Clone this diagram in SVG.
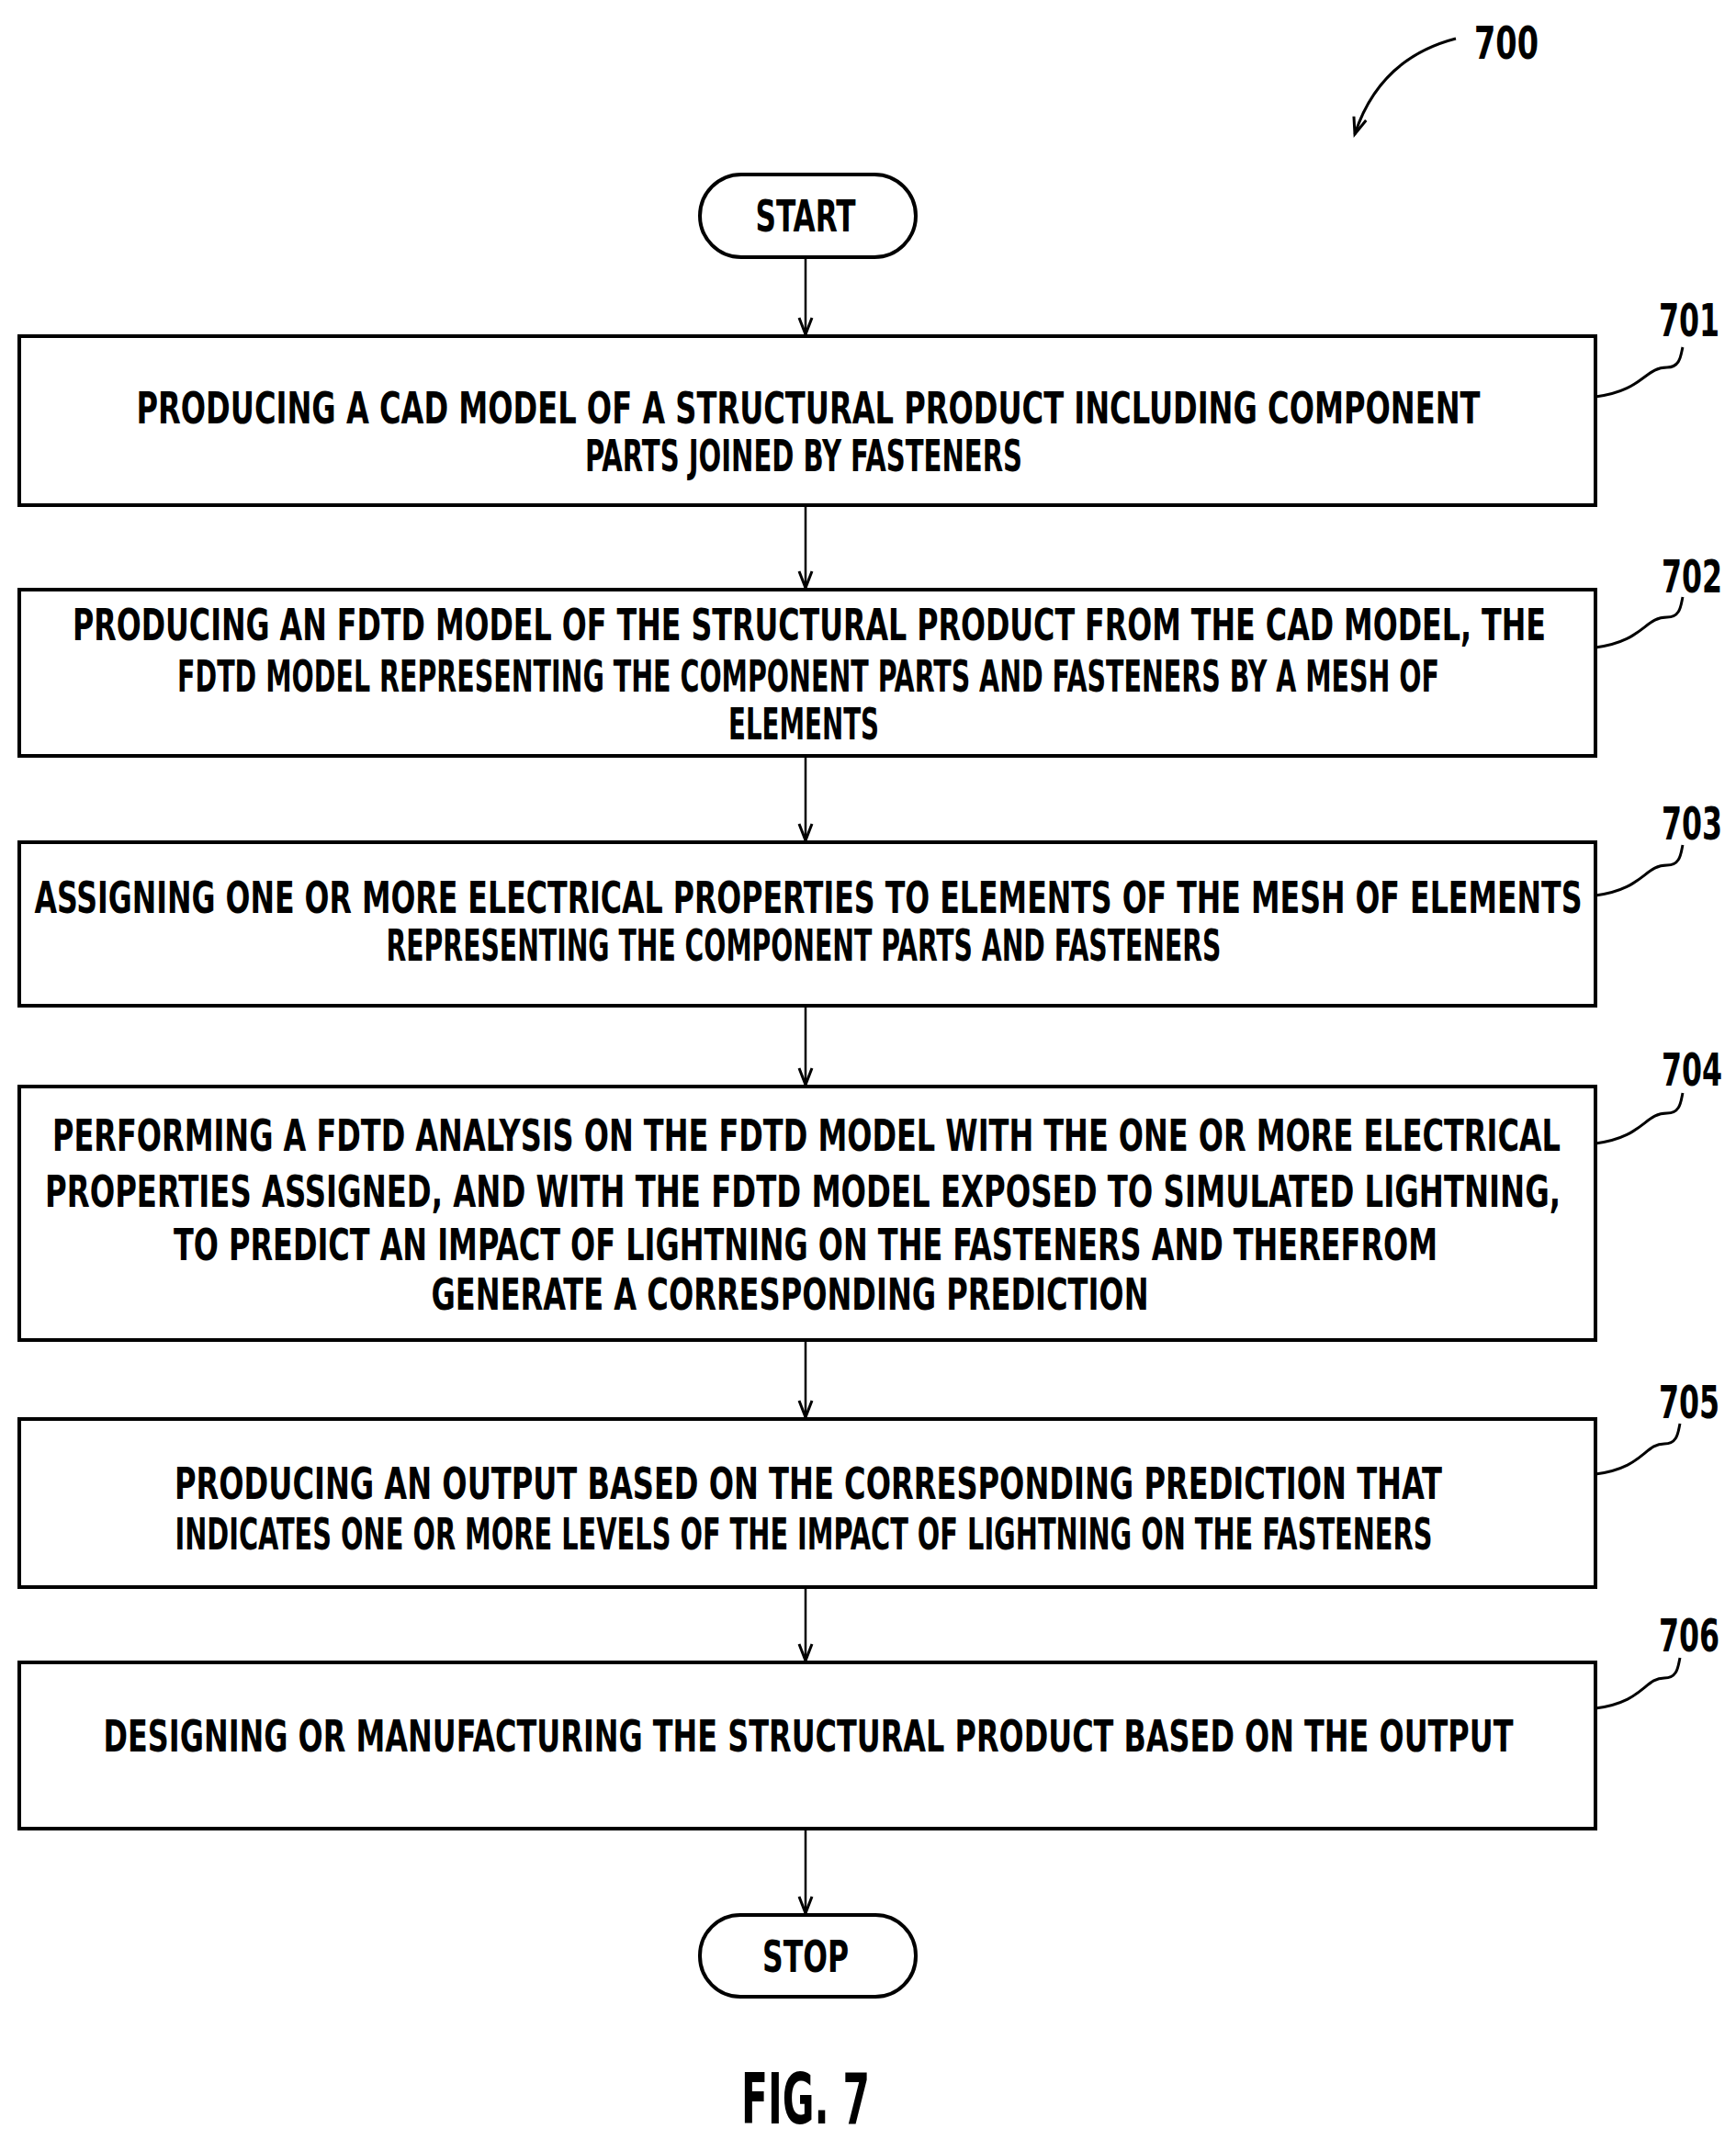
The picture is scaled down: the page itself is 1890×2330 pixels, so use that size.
<svg xmlns="http://www.w3.org/2000/svg" width="1890" height="2330" viewBox="0 0 1890 2330">
<style>
rect.b{fill:#fff;stroke:#000;stroke-width:4}
text{font-family:"DejaVu Sans Condensed","DejaVu Sans",sans-serif;font-weight:bold;font-size:48px;text-anchor:middle;fill:#000}
.c{fill:none;stroke:#000;stroke-width:2.5}
.l{fill:none;stroke:#000;stroke-width:3}
.n{font-size:50px;text-anchor:end}
</style>
<defs><marker id="a" markerWidth="22" markerHeight="18" refX="19" refY="8" orient="auto" markerUnits="userSpaceOnUse" overflow="visible"><path d="M1,1 L19,8 L1,15" fill="none" stroke="#000" stroke-width="3"/></marker></defs>
<rect width="1890" height="2330" fill="#fff"/>
<g id="connectors">
<path class="c" d="M877,282 V364" marker-end="url(#a)"/>
<path class="c" d="M877,552 V640" marker-end="url(#a)"/>
<path class="c" d="M877,825 V915" marker-end="url(#a)"/>
<path class="c" d="M877,1097 V1181" marker-end="url(#a)"/>
<path class="c" d="M877,1461 V1543" marker-end="url(#a)"/>
<path class="c" d="M877,1730 V1808" marker-end="url(#a)"/>
<path class="c" d="M877,1993 V2083" marker-end="url(#a)"/>
</g>
<g id="start"><rect class="b" x="762" y="190" width="235" height="90" rx="45"/><text x="877" y="252" textLength="109" lengthAdjust="spacingAndGlyphs">START</text></g>
<g id="n701"><rect class="b" x="21" y="366" width="1716" height="184"/>
<text x="880" y="461" textLength="1463" lengthAdjust="spacingAndGlyphs">PRODUCING A CAD MODEL OF A STRUCTURAL PRODUCT INCLUDING COMPONENT</text>
<text x="875" y="513" textLength="476" lengthAdjust="spacingAndGlyphs">PARTS JOINED BY FASTENERS</text>
<path class="l" d="M1737,432 C1790,425 1790,400 1815,400 C1830,400 1830,385 1832,378"/><text class="n" x="1872" y="366" textLength="66" lengthAdjust="spacingAndGlyphs">701</text></g>
<g id="n702"><rect class="b" x="21" y="642" width="1716" height="181"/>
<text x="881" y="697" textLength="1604" lengthAdjust="spacingAndGlyphs">PRODUCING AN FDTD MODEL OF THE STRUCTURAL PRODUCT FROM THE CAD MODEL, THE</text>
<text x="880" y="753" textLength="1374" lengthAdjust="spacingAndGlyphs">FDTD MODEL REPRESENTING THE COMPONENT PARTS AND FASTENERS BY A MESH OF</text>
<text x="875" y="805" textLength="164" lengthAdjust="spacingAndGlyphs">ELEMENTS</text>
<path class="l" d="M1737,705 C1790,698 1790,672 1815,672 C1830,672 1830,658 1832,650"/><text class="n" x="1875" y="645" textLength="66" lengthAdjust="spacingAndGlyphs">702</text></g>
<g id="n703"><rect class="b" x="21" y="917" width="1716" height="178"/>
<text x="880" y="994" textLength="1685" lengthAdjust="spacingAndGlyphs">ASSIGNING ONE OR MORE ELECTRICAL PROPERTIES TO ELEMENTS OF THE MESH OF ELEMENTS</text>
<text x="875" y="1046" textLength="909" lengthAdjust="spacingAndGlyphs">REPRESENTING THE COMPONENT PARTS AND FASTENERS</text>
<path class="l" d="M1737,975 C1790,968 1790,942 1815,942 C1830,942 1830,928 1832,920"/><text class="n" x="1875" y="914" textLength="66" lengthAdjust="spacingAndGlyphs">703</text></g>
<g id="n704"><rect class="b" x="21" y="1183" width="1716" height="276"/>
<text x="878" y="1253" textLength="1642" lengthAdjust="spacingAndGlyphs">PERFORMING A FDTD ANALYSIS ON THE FDTD MODEL WITH THE ONE OR MORE ELECTRICAL</text>
<text x="874" y="1314" textLength="1650" lengthAdjust="spacingAndGlyphs">PROPERTIES ASSIGNED, AND WITH THE FDTD MODEL EXPOSED TO SIMULATED LIGHTNING,</text>
<text x="877" y="1372" textLength="1376" lengthAdjust="spacingAndGlyphs">TO PREDICT AN IMPACT OF LIGHTNING ON THE FASTENERS AND THEREFROM</text>
<text x="860" y="1426" textLength="781" lengthAdjust="spacingAndGlyphs">GENERATE A CORRESPONDING PREDICTION</text>
<path class="l" d="M1737,1245 C1790,1238 1790,1212 1815,1212 C1830,1212 1830,1198 1832,1190"/><text class="n" x="1875" y="1182" textLength="66" lengthAdjust="spacingAndGlyphs">704</text></g>
<g id="n705"><rect class="b" x="21" y="1545" width="1716" height="183"/>
<text x="880" y="1632" textLength="1380" lengthAdjust="spacingAndGlyphs">PRODUCING AN OUTPUT BASED ON THE CORRESPONDING PREDICTION THAT</text>
<text x="875" y="1687" textLength="1369" lengthAdjust="spacingAndGlyphs">INDICATES ONE OR MORE LEVELS OF THE IMPACT OF LIGHTNING ON THE FASTENERS</text>
<path class="l" d="M1737,1605 C1790,1598 1790,1572 1812,1572 C1827,1572 1827,1558 1829,1550"/><text class="n" x="1872" y="1544" textLength="66" lengthAdjust="spacingAndGlyphs">705</text></g>
<g id="n706"><rect class="b" x="21" y="1810" width="1716" height="181"/>
<text x="880" y="1907" textLength="1535" lengthAdjust="spacingAndGlyphs">DESIGNING OR MANUFACTURING THE STRUCTURAL PRODUCT BASED ON THE OUTPUT</text>
<path class="l" d="M1737,1860 C1790,1853 1790,1827 1812,1827 C1827,1827 1827,1813 1829,1805"/><text class="n" x="1872" y="1798" textLength="66" lengthAdjust="spacingAndGlyphs">706</text></g>
<g id="stop"><rect class="b" x="762" y="2085" width="235" height="89" rx="44"/><text x="877" y="2147" textLength="94" lengthAdjust="spacingAndGlyphs">STOP</text></g>
<g id="label700"><text class="n" x="1675" y="64" textLength="70" lengthAdjust="spacingAndGlyphs">700</text>
<path class="l" d="M1585,42 C1535,55 1495,85 1475,146" marker-end="url(#a)"/></g>
<text x="877" y="2312" style="font-size:76px" textLength="140" lengthAdjust="spacingAndGlyphs">FIG. 7</text>
</svg>
